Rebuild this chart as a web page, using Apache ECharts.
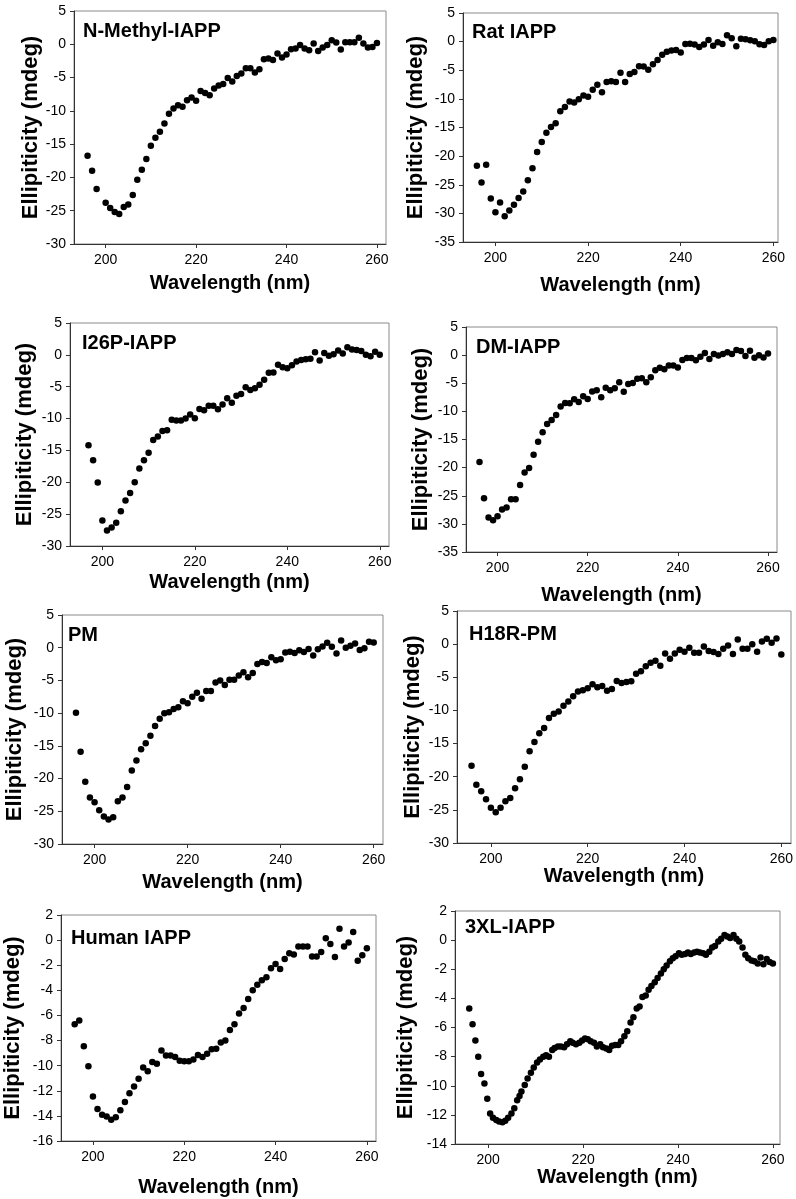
<!DOCTYPE html>
<html>
<head>
<meta charset="utf-8">
<script src="https://cdn.jsdelivr.net/npm/echarts@6/dist/echarts.min.js"></script>
<style>
html,body{margin:0;padding:0;background:#fff;}
#chart{width:796px;height:1199px;}
</style>
</head>
<body>
<div id="chart"></div>
<script>
// ---------- DATA ----------
const titles = ['N-Methyl-IAPP','Rat IAPP','I26P-IAPP','DM-IAPP','PM','H18R-PM','Human IAPP','3XL-IAPP'];
const xTickLabels = [200, 220, 240, 260];

const wavelength = [196,197,198,199,200,201,202,203,204,205,206,207,208,209,210,211,212,213,214,215,
  216,217,218,219,220,221,222,223,224,225,226,227,228,229,230,231,232,233,234,235,
  236,237,238,239,240,241,242,243,244,245,246,247,248,249,250,251,252,253,254,255,
  256,257,258,259,260];

const nMethylIAPP = [-16.75,-19.0,-21.75,null,-23.8,-24.6,-25.2,-25.5,-24.45,-24.05,
  -22.65,-20.35,-18.85,-17.25,-15.25,-14.05,-13.15,-11.9,-10.45,-9.65,
  -9.15,-9.4,-8.4,-8.0,-8.5,-7.0,-7.3,-7.65,-6.65,-6.2,
  -5.95,-5.05,-5.6,-4.75,-4.4,-3.6,-3.6,-4.25,-3.75,-2.25,
  -2.15,-2.35,-1.4,-2.0,-1.55,-0.75,-0.65,-0.1,-0.65,-0.9,
  0.1,-1.0,-0.5,-0.1,0.6,0.25,-0.8,0.3,0.3,0.3,
  1.0,0.1,-0.5,-0.4,0.2];

const ratIAPP = [-21.7,-24.6,-21.5,-27.4,-29.8,-28.1,-30.5,-29.5,-28.5,-27.3,
  -26.2,-24.2,-22.1,-19.3,-17.55,-15.9,-14.9,-14.25,-12.15,-11.4,
  -10.45,-10.65,-10.05,-9.4,-9.65,-8.4,-7.55,-8.85,-7.05,-6.9,
  -7.05,-5.45,-7.05,-5.65,-5.3,-4.3,-4.35,-4.9,-3.95,-3.2,
  -2.3,-1.75,-1.55,-1.45,-1.9,-0.4,-0.35,-0.5,-0.95,-0.5,
  0.3,-0.7,-0.1,-0.4,1.1,0.6,-0.8,0.5,0.4,0.25,
  0.05,-0.45,-0.6,0.05,0.3];

const i26pIAPP = [null,-14.2,-16.55,-20.05,-26.0,-27.55,-27.1,-26.35,-24.55,-22.85,
  -21.7,-20.0,-17.85,-16.55,-15.35,-13.35,-12.8,-11.95,-11.85,-10.2,
  -10.3,-10.3,-10.0,-9.35,-9.95,-8.5,-8.7,-8.0,-8.0,-8.55,
  -7.8,-6.8,-7.5,-6.4,-6.15,-5.1,-5.5,-5.25,-4.7,-3.9,
  -2.8,-2.75,-1.55,-1.95,-2.1,-1.65,-1.05,-0.8,-0.7,-0.6,
  0.4,-0.9,0.3,-0.15,0.1,0.7,0.2,1.2,0.85,0.75,
  0.6,0,-0.2,0.5,0];

const dmIAPP = [-19.0,-25.45,-28.85,-29.35,-28.65,-27.45,-27.1,-25.6,-25.6,-23.1,
  -20.85,-20.05,-17.7,-15.4,-13.7,-12.25,-11.55,-10.65,-9.15,-8.5,
  -8.55,-7.85,-8.35,-7.3,-7.8,-6.45,-6.25,-7.5,-5.8,-6.25,
  -5.9,-4.8,-6.5,-5.15,-4.95,-4.2,-4.1,-4.8,-3.95,-2.7,
  -2.25,-2.5,-1.85,-1.85,-2.2,-0.85,-0.5,-0.5,-0.9,-0.3,
  0.4,-0.7,0.2,-0.05,0.2,0.5,0.2,0.9,0.75,-0.15,
  0.8,-0.45,0.0,-0.4,0.3];

const pm = [-9.95,-15.9,-20.5,-22.9,-23.6,-24.85,-25.8,-26.25,-25.9,-23.45,
  -22.9,-21.3,-18.75,-17.25,-15.5,-14.6,-13.45,-11.95,-10.85,-10.0,
  -9.85,-9.35,-9.1,-8.2,-8.5,-7.5,-6.9,-7.8,-6.6,-6.6,
  -5.3,-5.0,-5.7,-4.9,-4.9,-4.25,-3.75,-4.5,-3.85,-2.5,
  -2.2,-2.35,-1.45,-1.9,-1.75,-0.75,-0.6,-0.8,-0.4,-0.65,
  -0.2,-1.2,-0.25,0.2,0.75,0.15,-0.9,1.1,0,0.3,
  0.65,-0.35,-0.1,0.9,0.8];

const h18rPM = [-18.35,-21.2,-22.2,-23.4,-24.7,-25.35,-24.7,-23.7,-23.2,-21.75,
  -20.4,-18.5,-16.15,-14.75,-13.45,-12.65,-11.15,-10.5,-10.15,-9.3,
  -8.65,-7.85,-7.15,-6.95,-6.65,-6.05,-6.5,-6.3,-7.05,-6.75,
  -5.55,-5.85,-5.7,-5.6,-4.45,-4.1,-3.35,-2.8,-2.5,-3.25,
  -1.4,-2.2,-1.4,-0.85,-1.15,-0.55,-1.3,-1.3,-0.35,-1.05,
  -1.2,-1.5,-0.7,-0.2,-1.5,0.7,-0.7,-0.7,0,-1.15,
  0.4,0.8,0.2,0.85,-1.55];

const humanIAPP = [-6.7,-6.4,-8.45,-10.05,-12.45,-13.45,-13.9,-14.05,-14.3,-14.1,
  -13.55,-12.9,-12.2,-11.65,-11.05,-10.15,-10.45,-9.7,-9.85,-8.8,
  -9.2,-9.2,-9.3,-9.6,-9.65,-9.65,-9.5,-9.15,-9.3,-9.05,
  -8.7,-8.65,-8.15,-8.0,-7.15,-6.7,-5.85,-5.4,-4.7,-4.0,
  -3.55,-3.2,-2.95,-2.25,-1.9,-2.3,-1.5,-1.05,-1.15,-0.5,
  -0.5,-0.5,-1.3,-1.3,-0.95,0.15,-0.3,-1.35,0.9,-0.5,
  -0.2,0.65,-1.65,-1.2,-0.65];

const wavelength3XL = [196.0,196.7,197.3,197.9,198.5,199.2,199.8,200.4,201.0,201.7,
  202.3,203.0,203.6,204.2,204.9,205.5,206.1,206.6,207.0,207.7,208.3,
  209.0,209.6,210.3,210.9,211.6,212.2,212.8,213.5,214.0,214.7,
  215.3,216.0,216.6,217.3,217.8,218.5,219.2,219.8,220.4,221.0,
  221.6,222.3,222.9,223.6,224.2,224.9,225.5,226.1,226.8,227.4,
  228.0,228.7,229.3,230.0,230.6,231.3,231.9,232.5,233.2,233.8,
  234.4,235.1,235.7,236.4,237.0,237.6,238.3,238.9,239.5,240.2,
  240.8,241.5,242.1,242.7,243.4,244.0,244.6,245.3,245.9,246.6,
  247.2,247.8,248.5,249.1,249.8,250.4,251.0,251.7,252.3,252.9,
  253.6,254.2,254.8,255.5,256.1,256.8,257.4,258.0,258.7,259.3,
  260.0];
const xl3IAPP = [-4.7,-5.77,-6.9,-8.0,-9.2,-9.85,-10.9,-11.9,-12.2,-12.35,
  -12.45,-12.5,-12.4,-12.2,-11.9,-11.55,-11.0,-10.7,-10.4,-9.95,-9.5,
  -9.1,-8.75,-8.4,-8.2,-8.0,-7.9,-8.0,-7.55,-7.4,-7.3,
  -7.3,-7.35,-7.15,-6.95,-7.05,-7.15,-7.05,-6.9,-6.75,-6.8,
  -6.95,-7.05,-7.3,-7.15,-7.35,-7.45,-7.55,-7.25,-7.2,-7.2,
  -6.95,-6.6,-6.25,-5.65,-5.3,-4.7,-4.55,-3.9,-3.8,-3.4,
  -3.15,-2.9,-2.6,-2.3,-2.0,-1.75,-1.45,-1.25,-1.1,-0.9,
  -1.0,-0.95,-0.85,-0.95,-0.85,-0.8,-0.85,-0.9,-1.0,-0.8,
  -0.5,-0.4,-0.1,0.1,0.35,0.25,0.15,0.35,0.1,-0.1,
  -0.5,-1.0,-1.25,-1.4,-1.45,-1.6,-1.2,-1.65,-1.3,-1.5,
  -1.6];

// ---------- LAYOUT (positions / styles only) ----------
const panels = [
  {x: wavelength, y: nMethylIAPP, grid:[74,11,312,233],  xr:[193,262], yr:[-30,5,5],  xGap:29, yGap:31, t:[83,21]},
  {x: wavelength, y: ratIAPP,     grid:[463,13,315,229], xr:[193,261], yr:[-35,5,5],  xGap:33, yGap:36, t:[472,22]},
  {x: wavelength, y: i26pIAPP,    grid:[70,323,319,223], xr:[193,262], yr:[-30,5,5],  xGap:26, yGap:34, t:[82,333]},
  {x: wavelength, y: dmIAPP,      grid:[466,327,311,225],xr:[193,262], yr:[-35,5,5],  xGap:33, yGap:34, t:[476,337]},
  {x: wavelength, y: pm,          grid:[62,615,321,229], xr:[193,262], yr:[-30,5,5],  xGap:28, yGap:36, t:[68,625]},
  {x: wavelength, y: h18rPM,      grid:[457,611,334,232],xr:[193,262], yr:[-30,5,5],  xGap:23, yGap:33, t:[469,624]},
  {x: wavelength, y: humanIAPP,   grid:[61,915,315,226], xr:[193,262], yr:[-16,2,2],  xGap:36, yGap:37, t:[71,928]},
  {x: wavelength3XL, y: xl3IAPP,  grid:[455,911,325,233],xr:[193,261.5], yr:[-14,2,2],xGap:22, yGap:38, t:[465,917]}
];

const FONT = 'Liberation Sans, Arial, Helvetica, sans-serif';
const grids = [], xAxes = [], yAxes = [], series = [], titleList = [];

panels.forEach((p, i) => {
  grids.push({
    left: p.grid[0], top: p.grid[1], width: p.grid[2], height: p.grid[3],
    show: true, borderColor: '#8a8a8a', borderWidth: 1, backgroundColor: 'transparent',
    containLabel: false
  });
  xAxes.push({
    type: 'value', gridIndex: i, min: p.xr[0], max: p.xr[1],
    axisLine: {show: true, onZero: false, lineStyle: {color: '#333', width: 1}},
    axisTick: {show: true, inside: false, length: 4, customValues: xTickLabels, lineStyle: {color: '#333'}},
    axisLabel: {customValues: xTickLabels, fontSize: 14, color: '#000', margin: 9, fontFamily: FONT},
    splitLine: {show: false},
    name: 'Wavelength (nm)', nameLocation: 'middle', nameGap: p.xGap,
    nameTextStyle: {fontSize: 20, fontWeight: 'bold', color: '#000', fontFamily: FONT}
  });
  yAxes.push({
    type: 'value', gridIndex: i, min: p.yr[0], max: p.yr[1], interval: p.yr[2],
    axisLine: {show: true, onZero: false, lineStyle: {color: '#333', width: 1}},
    axisTick: {show: true, inside: false, length: 4, lineStyle: {color: '#333'}},
    axisLabel: {fontSize: 14, color: '#000', margin: 8, fontFamily: FONT},
    splitLine: {show: false},
    name: 'Ellipiticity (mdeg)', nameLocation: 'middle', nameGap: p.yGap, nameRotate: 90,
    nameTextStyle: {fontSize: 22, fontWeight: 'bold', color: '#000', fontFamily: FONT}
  });
  const data = [];
  for (let k = 0; k < p.x.length; k++) {
    if (p.y[k] !== null && p.y[k] !== undefined) data.push([p.x[k], p.y[k]]);
  }
  series.push({
    type: 'scatter', xAxisIndex: i, yAxisIndex: i, data: data,
    symbol: 'circle', symbolSize: 6.5,
    itemStyle: {color: '#000', opacity: 1}, silent: true, animation: false
  });
  titleList.push({
    text: titles[i], left: p.t[0], top: p.t[1], padding: 0,
    textStyle: {fontSize: 20, fontWeight: 'bold', color: '#000', fontFamily: FONT}
  });
});

const chart = echarts.init(document.getElementById('chart'), null, {renderer: 'canvas'});
chart.setOption({
  backgroundColor: '#fff',
  animation: false,
  title: titleList,
  grid: grids,
  xAxis: xAxes,
  yAxis: yAxes,
  series: series
});
</script>
</body>
</html>
